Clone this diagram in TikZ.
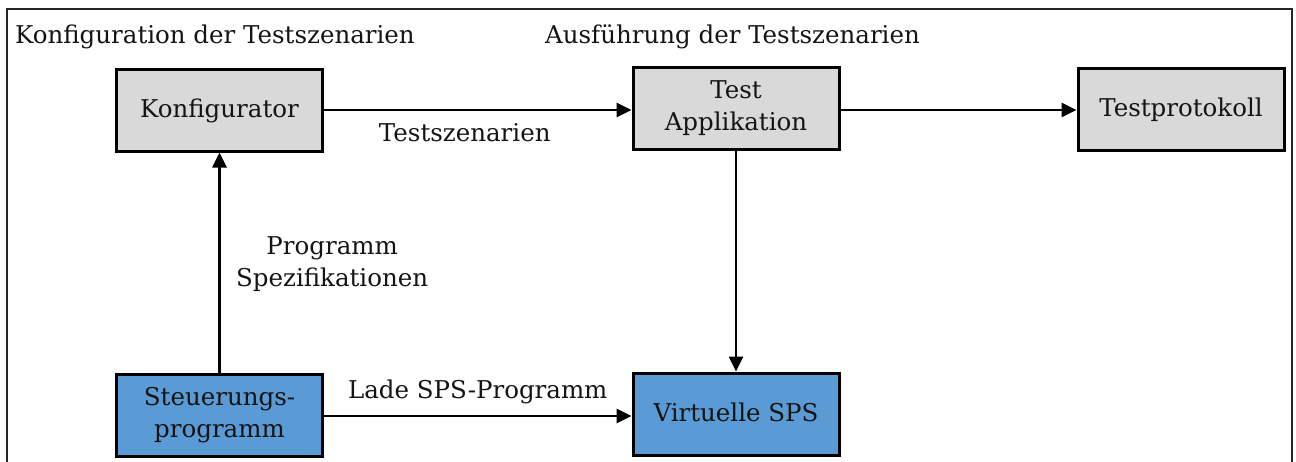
\documentclass[tikz,border=0pt]{standalone}
\usepackage{fontspec}
\setmainfont{DejaVu Serif}
\usetikzlibrary{arrows.meta}
\definecolor{boxgrey}{HTML}{D9D9D9}
\definecolor{boxblue}{HTML}{5B9BD5}
\definecolor{txt}{HTML}{141414}
\begin{document}
\begin{tikzpicture}[x=1pt,y=-1pt,
  font=\fontsize{24.5}{32}\selectfont, text=txt,
  block/.style={draw=black, line width=3pt, minimum width=206pt, minimum height=82pt, align=center, inner sep=0pt},
  greybox/.style={block, fill=boxgrey},
  bluebox/.style={block, fill=boxblue},
  lift/.style={text depth=4pt},
  conn/.style={line width=2.6pt, -{Triangle[length=15pt,width=14pt]}}]
\useasboundingbox (0,0) rectangle (1296,461);
% outer frame, open at the bottom
\draw[line width=2pt, draw=black!85] (7,470) -- (7,9) -- (1292,9) -- (1292,470);
% section headings
\node[anchor=west, inner sep=0pt] (h1) at (15,37) {Konfiguration der Testszenarien};
\node[anchor=west, inner sep=0pt] (h2) at (545,37) {Ausführung der Testszenarien};
% blocks
\node[greybox, lift] (konf) at (219.5,110) {Konfigurator};
\node[greybox] (app) at (736,108.5) {Test\\Applikation};
\node[greybox, lift] (prot) at (1181,109) {Testprotokoll};
\node[bluebox] (steu) at (219.5,415) {Steuerungs-\\programm};
\node[bluebox, lift] (sps) at (736,414) {Virtuelle SPS};
% connectors
\draw[conn] (konf.east |- 0,110) -- node[below=9pt, xshift=-13pt] (l1) {Testszenarien} (app.west |- 0,110);
\draw[conn] (app.east |- 0,110) -- (prot.west |- 0,110);
\draw[conn] (app.south) -- (sps.north);
\draw[conn] (steu.north) -- node[right=12pt, align=center, yshift=-2pt] (l2) {Programm\\Spezifikationen} (konf.south);
\draw[conn] (steu.east |- 0,416) -- node[above=7pt] (l3) {Lade SPS-Programm} (sps.west |- 0,416);
\end{tikzpicture}
\end{document}
